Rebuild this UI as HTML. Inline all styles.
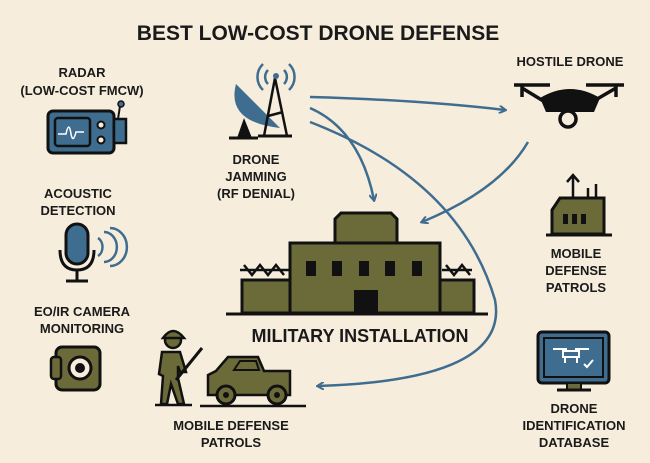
<!DOCTYPE html>
<html><head><meta charset="utf-8"><style>
html,body{margin:0;padding:0;background:#f6eddd;}
svg{display:block}
text{font-family:"Liberation Sans",sans-serif;font-weight:bold;fill:#1a1a1a;text-anchor:middle}
</style></head><body>
<svg width="650" height="463" viewBox="0 0 650 463" xmlns="http://www.w3.org/2000/svg">
<rect width="650" height="463" fill="#f6eddd"/>
<text x="318" y="40" font-size="21">BEST LOW-COST DRONE DEFENSE</text>
<!-- radar -->
<text x="82" y="77" font-size="13">RADAR</text>
<text x="82" y="95" font-size="13">(LOW-COST FMCW)</text>
<rect x="48" y="111" width="66" height="42" rx="5" fill="#3f6d8f" stroke="#111" stroke-width="3"/>
<rect x="55" y="118" width="35" height="28" rx="3" fill="#3f6d8f" stroke="#111" stroke-width="2.5"/>
<path d="M58 134 h8 q3 -14 5 0 q2 10 5 -2 h8" fill="none" stroke="#fff" stroke-width="1.5"/>
<circle cx="101" cy="125" r="3.5" fill="#f6eddd" stroke="#111" stroke-width="2"/>
<circle cx="101" cy="140" r="3.5" fill="#f6eddd" stroke="#111" stroke-width="2"/>
<rect x="114" y="119" width="12" height="24" fill="#3f6d8f" stroke="#111" stroke-width="2.5"/>
<line x1="118" y1="119" x2="120" y2="106" stroke="#111" stroke-width="2"/><circle cx="121" cy="104" r="3" fill="#3f6d8f" stroke="#111" stroke-width="1.5"/>
<!-- jamming -->
<path d="M236 84 Q226 122 280 128 Z" fill="#3f6d8f"/>
<path d="M237 138 l7 -20 l8 20 Z" fill="#111"/>
<line x1="229" y1="138" x2="258" y2="138" stroke="#111" stroke-width="3"/>
<path d="M264 136 L275 78 L287 136 M268 116 L283 112" fill="none" stroke="#111" stroke-width="2.5"/>
<line x1="258" y1="136" x2="292" y2="136" stroke="#111" stroke-width="3"/>
<circle cx="276" cy="76" r="3" fill="#3f6d8f"/>
<path d="M268 70 a10 10 0 0 0 0 14 M284 70 a10 10 0 0 1 0 14 M263 64 a18 18 0 0 0 0 26 M289 64 a18 18 0 0 1 0 26" fill="none" stroke="#3f6d8f" stroke-width="2.5"/>
<text x="256" y="164" font-size="13">DRONE</text>
<text x="256" y="181" font-size="13">JAMMING</text>
<text x="256" y="198" font-size="13">(RF DENIAL)</text>
<!-- hostile drone -->
<text x="570" y="66" font-size="13">HOSTILE DRONE</text>
<g stroke="#111" stroke-width="3.5" fill="#111">
<line x1="514" y1="85" x2="550" y2="85"/><line x1="586" y1="85" x2="624" y2="85"/>
<line x1="522" y1="88" x2="545" y2="102"/><line x1="616" y1="88" x2="592" y2="102"/>
<line x1="522" y1="85" x2="522" y2="97"/><line x1="616" y1="85" x2="616" y2="97"/>
</g>
<path d="M540 98 q30 -18 60 0 l-6 14 h-48 z" fill="#111"/>
<circle cx="568" cy="119" r="8" fill="#f6eddd" stroke="#111" stroke-width="3.5"/>
<!-- acoustic -->
<text x="78" y="198" font-size="13">ACOUSTIC</text>
<text x="78" y="215" font-size="13">DETECTION</text>
<rect x="66" y="224" width="22" height="40" rx="11" fill="#3f6d8f" stroke="#111" stroke-width="3"/>
<path d="M60 250 q0 20 17 20 q17 0 17 -20" fill="none" stroke="#111" stroke-width="3"/>
<line x1="77" y1="270" x2="77" y2="281" stroke="#111" stroke-width="3"/><line x1="66" y1="281" x2="88" y2="281" stroke="#111" stroke-width="3"/>
<path d="M98 238 a8 10 0 0 1 0 18 M104 232 a12 14 0 0 1 0 30 M110 228 a16 18 0 0 1 0 38" fill="none" stroke="#3f6d8f" stroke-width="2.5"/>
<!-- camera -->
<text x="82" y="316" font-size="13">EO/IR CAMERA</text>
<text x="82" y="333" font-size="13">MONITORING</text>
<rect x="56" y="347" width="44" height="43" rx="6" fill="#6b6b3a" stroke="#111" stroke-width="3"/>
<rect x="51" y="357" width="10" height="22" rx="3" fill="#6b6b3a" stroke="#111" stroke-width="2.5"/>
<circle cx="80" cy="368" r="11" fill="#f6eddd" stroke="#111" stroke-width="3"/><circle cx="80" cy="368" r="5" fill="#111"/>
<!-- building -->
<path d="M335 243 v-24 l6 -6 h50 l6 6 v24" fill="#6b6b3a" stroke="#111" stroke-width="3"/>
<rect x="290" y="243" width="150" height="70" fill="#6b6b3a" stroke="#111" stroke-width="3"/>
<rect x="242" y="280" width="48" height="33" fill="#6b6b3a" stroke="#111" stroke-width="3"/>
<rect x="440" y="280" width="34" height="33" fill="#6b6b3a" stroke="#111" stroke-width="3"/>
<g fill="#111"><rect x="306" y="261" width="10" height="15"/><rect x="332" y="261" width="10" height="15"/><rect x="359" y="261" width="10" height="15"/><rect x="385" y="261" width="10" height="15"/><rect x="412" y="261" width="10" height="15"/><rect x="354" y="290" width="24" height="23"/></g>
<path d="M240 270 h50 M442 270 h30 M244 265 l8 10 l8 -10 l8 10 l8 -10 l8 10 M446 265 l8 10 l8 -10 l8 10" fill="none" stroke="#111" stroke-width="2.5"/>
<line x1="226" y1="314" x2="488" y2="314" stroke="#111" stroke-width="3"/>
<text x="360" y="342" font-size="18">MILITARY INSTALLATION</text>
<!-- right top building -->
<path d="M552 210 l8 -12 h44 v36 h-52 z" fill="#6b6b3a" stroke="#111" stroke-width="3"/>
<line x1="546" y1="235" x2="612" y2="235" stroke="#111" stroke-width="3"/>
<g fill="#111"><rect x="563" y="214" width="5" height="10"/><rect x="572" y="214" width="5" height="10"/><rect x="581" y="214" width="5" height="10"/></g>
<path d="M573 198 v-22 M567 182 l6 -7 l6 7 M588 198 v-10 M596 198 v-14" fill="none" stroke="#111" stroke-width="2.5"/>
<text x="576" y="258" font-size="13">MOBILE</text>
<text x="576" y="275" font-size="13">DEFENSE</text>
<text x="576" y="292" font-size="13">PATROLS</text>
<!-- db monitor -->
<rect x="538" y="332" width="71" height="51" rx="4" fill="#3f6d8f" stroke="#111" stroke-width="3"/>
<rect x="544" y="338" width="59" height="39" fill="none" stroke="#111" stroke-width="2"/>
<rect x="567" y="383" width="14" height="7" fill="#6b6b3a" stroke="#111" stroke-width="2"/>
<line x1="557" y1="390" x2="591" y2="390" stroke="#111" stroke-width="3"/>
<path d="M553 349 h14 M575 349 h14 M563 351 h16 v6 h-16 z M565 357 v6 M577 357 v6 M584 364 l3 3 l6 -7" fill="none" stroke="#fff" stroke-width="2"/>
<text x="574" y="413" font-size="13">DRONE</text>
<text x="574" y="430" font-size="13">IDENTIFICATION</text>
<text x="574" y="447" font-size="13">DATABASE</text>
<!-- soldier & vehicle -->
<circle cx="173" cy="340" r="8" fill="#6b6b3a" stroke="#111" stroke-width="2.5"/>
<path d="M163 338 q10 -14 21 0 z" fill="#6b6b3a" stroke="#111" stroke-width="2.5"/>
<path d="M162 352 h18 l6 20 h-6 l-2 -6 v12 l6 26 h-6 l-7 -20 l-4 20 h-6 l2 -28 l-4 -2 z" fill="#6b6b3a" stroke="#111" stroke-width="2.5"/>
<line x1="176" y1="380" x2="202" y2="348" stroke="#111" stroke-width="3"/>
<line x1="155" y1="405" x2="192" y2="405" stroke="#111" stroke-width="2.5"/>
<path d="M208 395 v-20 l8 -4 l12 -14 h30 l6 14 h26 v24 z" fill="#6b6b3a" stroke="#111" stroke-width="2.5"/>
<path d="M234 370 l6 -9 h16 l3 9 z" fill="#6b6b3a" stroke="#111" stroke-width="2"/>
<circle cx="226" cy="395" r="9" fill="#6b6b3a" stroke="#111" stroke-width="3"/><circle cx="226" cy="395" r="3" fill="#111"/>
<circle cx="277" cy="395" r="9" fill="#6b6b3a" stroke="#111" stroke-width="3"/><circle cx="277" cy="395" r="3" fill="#111"/>
<line x1="200" y1="406" x2="306" y2="406" stroke="#111" stroke-width="2.5"/>
<text x="231" y="430" font-size="13">MOBILE DEFENSE</text>
<text x="231" y="447" font-size="13">PATROLS</text>
<!-- arrows -->
<defs><marker id="a" markerWidth="8" markerHeight="8" refX="6" refY="4" orient="auto" markerUnits="userSpaceOnUse"><path d="M0 0 L7 4 L0 8" fill="none" stroke="#3f6d8f" stroke-width="2"/></marker></defs>
<g fill="none" stroke="#3f6d8f" stroke-width="2.5" marker-end="url(#a)">
<path d="M310 97 Q420 100 505 110"/>
<path d="M310 108 Q360 130 374 200"/>
<path d="M310 122 Q460 180 495 300 Q510 380 318 386"/>
<path d="M528 142 Q500 190 422 222"/>
</g>
</svg>
</body></html>
